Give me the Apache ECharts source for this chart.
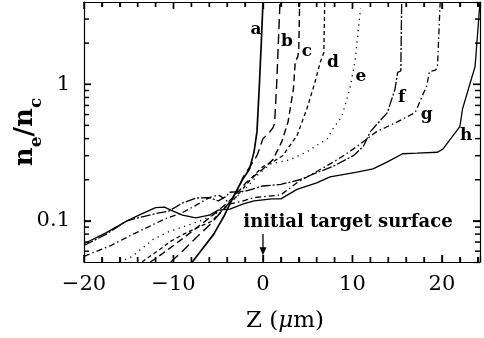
<!DOCTYPE html>
<html>
<head>
<meta charset="utf-8">
<script src="https://cdn.jsdelivr.net/npm/echarts@6/dist/echarts.min.js"></script>
<style>html,body{margin:0;padding:0;background:#fff}#c{width:484px;height:338px}</style>
</head>
<body>
<div id="c"></div>
<script>
// ---- data (z in micrometres, n_e/n_c) ----
const aX = [-7.9, -6.8, -5.5, -4.3, -3.2, -2.3, -1.5, -1.0, -0.67, -0.4, -0.19, 0.0];
const aV = [0.05, 0.062, 0.08, 0.11, 0.155, 0.2, 0.24, 0.32, 0.45, 1.0, 2.0, 4.0];
const bX = [-10.3, -9, -7.5, -6, -5, -3.6, -2.8, -2.2, -1.45, -0.67, 0, 0.78, 1.12, 1.3, 1.53, 1.9];
const bV = [0.05, 0.06, 0.075, 0.093, 0.11, 0.14, 0.17, 0.21, 0.25, 0.30, 0.40, 0.45, 0.48, 0.52, 1.0, 4.0];
const cX = [-12.6, -12, -10, -8, -6, -4, -2.7, -1.9, -1.1, 0, 1.1, 2.1, 2.8, 3.4, 3.6, 3.9, 4.0, 4.1];
const cV = [0.05, 0.053, 0.066, 0.083, 0.105, 0.135, 0.165, 0.19, 0.21, 0.24, 0.28, 0.38, 0.53, 0.92, 1.45, 1.6, 1.8, 4.0];
const dX = [-13.5, -13, -11.5, -10.3, -9, -7.7, -5.8, -4.2, -3, -2, -1, 0, 1.1, 2.2, 3.8, 4.9, 5.8, 6.4, 6.8, 6.9];
const dV = [0.05, 0.053, 0.062, 0.071, 0.079, 0.087, 0.099, 0.125, 0.15, 0.18, 0.215, 0.25, 0.27, 0.3, 0.42, 0.66, 1.03, 1.45, 1.7, 4.0];
const eX = [-16, -14.6, -12.3, -10.4, -9, -7, -5, -3.5, -2, -0.5, 0.8, 3, 4.9, 7.2, 7.8, 8.8, 9.7, 10.3, 10.9];
const eV = [0.05, 0.055, 0.073, 0.084, 0.09, 0.1, 0.115, 0.14, 0.17, 0.22, 0.26, 0.28, 0.32, 0.4, 0.47, 0.58, 0.92, 1.5, 3.6];
const fX = [-20, -17.5, -15.2, -13.5, -12, -10.5, -9, -7.5, -6, -5, -4.2, -3.7, -2, 0, 2, 4.1, 5.6, 7.8, 10.1, 11.2, 12, 13.9, 14.75, 15.05, 15.4, 15.5];
const fV = [0.066, 0.08, 0.1, 0.107, 0.113, 0.118, 0.135, 0.147, 0.148, 0.14, 0.15, 0.162, 0.165, 0.18, 0.185, 0.2, 0.22, 0.25, 0.3, 0.35, 0.45, 0.62, 0.92, 1.22, 1.25, 4.0];
const gX = [-20, -17, -14.5, -11, -9, -7.5, -6, -5, -4.3, -3.7, -2.2, -1, 0, 2, 3.8, 6, 8.3, 10.5, 12.7, 15, 17, 17.8, 18.3, 18.6, 19.3, 19.5, 19.8];
const gV = [0.055, 0.066, 0.08, 0.103, 0.115, 0.13, 0.148, 0.155, 0.145, 0.133, 0.14, 0.148, 0.15, 0.155, 0.19, 0.23, 0.28, 0.35, 0.45, 0.53, 0.62, 0.82, 0.97, 1.24, 1.27, 1.35, 4.0];
const hX = [-20, -17.5, -15.2, -13.5, -12, -11, -10.3, -9, -7.5, -6, -5, -3.7, -2.2, -1, 1, 2, 3.8, 6, 7.5, 10.5, 12.3, 13.9, 15.6, 17.2, 19.5, 20.1, 22, 22.3, 23.7, 24.25];
const hV = [0.068, 0.082, 0.1, 0.113, 0.125, 0.126, 0.12, 0.11, 0.105, 0.11, 0.12, 0.122, 0.133, 0.14, 0.145, 0.145, 0.17, 0.19, 0.21, 0.227, 0.24, 0.27, 0.31, 0.313, 0.318, 0.335, 0.49, 0.66, 1.35, 4.0];

const curveNames = ['a', 'b', 'c', 'd', 'e', 'f', 'g', 'h'];
const labelX = [-0.78, 2.68, 4.92, 7.82, 10.95, 15.5, 18.3, 22.7];
const labelV = [2.53, 2.06, 1.74, 1.45, 1.14, 0.80, 0.60, 0.42];

const xMajor = [-20, -10, 0, 10, 20];
const xMinor = [-18, -16, -14, -12, -8, -6, -4, -2, 2, 4, 6, 8, 12, 14, 16, 18, 22, 24];
const yMajor = [0.1, 1];
const yMinor = [0.06, 0.07, 0.08, 0.09, 0.2, 0.3, 0.4, 0.5, 0.6, 0.7, 0.8, 0.9, 2, 3];

const noteText = 'initial target surface';
const noteAt = [9.5, 0.097];
const arrowFrom = [0, 0.08];
const arrowTo = [0, 0.056];

// ---- chart ----
const FONT = 'DejaVu Serif';
const K = '#000';
const X_MIN = -20, X_MAX = 24.25, Y_MIN = 0.05, Y_MAX = 4;
const zip = (xs, vs) => xs.map((x, i) => [x, vs[i]]);
const styles = [
  { width: 1.7, type: 'solid' },
  { width: 1.4, type: [10, 5] },
  { width: 1.4, type: [7, 4] },
  { width: 1.3, type: [4, 3] },
  { width: 1.3, type: [1.2, 4.5] },
  { width: 1.3, type: [10, 2, 2, 2] },
  { width: 1.3, type: [6, 3, 1.5, 3] },
  { width: 1.3, type: 'solid' }
];
const allX = [aX, bX, cX, dX, eX, fX, gX, hX];
const allV = [aV, bV, cV, dV, eV, fV, gV, hV];

const chart = echarts.init(document.getElementById('c'), null, { renderer: 'canvas' });
const lineSty = { color: K, width: 1.2 };

function xAx(pos) {
  return {
    type: 'value', position: pos, min: X_MIN, max: X_MAX, interval: 10,
    axisLine: { show: true, onZero: false, lineStyle: lineSty },
    axisTick: { show: true, inside: true, length: 7, lineStyle: { color: K, width: 1.3 } },
    minorTick: { show: true, splitNumber: 5, length: 5, lineStyle: { color: K, width: 1.3 } },
    axisLabel: { show: pos === 'bottom', showMaxLabel: false, margin: 12, color: K, fontFamily: FONT, fontSize: 21,
      formatter: v => (v > 22 ? '' : (v < 0 ? '\u2212' + (-v) : String(v))) },
    splitLine: { show: false }, minorSplitLine: { show: false }
  };
}
function yAx(pos) {
  return {
    type: 'log', logBase: 10, position: pos, min: Y_MIN, max: Y_MAX,
    axisLine: { show: true, onZero: false, lineStyle: lineSty },
    axisTick: { show: true, inside: true, length: 7, lineStyle: { color: K, width: 1.3 } },
    axisLabel: { show: pos === 'left', showMinLabel: false, showMaxLabel: false, margin: 14, color: K, fontFamily: FONT, fontSize: 21,
      formatter: v => { const n = Number(Number(v).toPrecision(3)); return (n === 0.1 || n === 1) ? String(n) : ''; } },
    splitLine: { show: false }, minorSplitLine: { show: false }
  };
}

const xAxes = [xAx('bottom'), xAx('top')];
xAxes[0].name = 'Z ({i|\u03bc}m)';
xAxes[0].nameLocation = 'middle';
xAxes[0].nameGap = 48;
xAxes[0].nameMoveOverlap = false;
xAxes[0].nameTextStyle = { color: K, fontFamily: FONT, fontSize: 23, padding: [0, 0, 0, 6],
  rich: { i: { fontFamily: FONT, fontSize: 23, fontStyle: 'italic', color: K } } };

const yAxes = [yAx('left'), yAx('right')];
yAxes[0].name = '{n|n}{s|e}{n|/n}{s|c}';
yAxes[0].nameLocation = 'middle';
yAxes[0].nameRotate = 90;
yAxes[0].nameGap = 44;
yAxes[0].nameMoveOverlap = false;
yAxes[0].nameTextStyle = { color: K, rich: {
  n: { fontFamily: FONT, fontSize: 26, fontWeight: 'bold', color: K, lineHeight: 28, verticalAlign: 'top' },
  s: { fontFamily: FONT, fontSize: 17, fontWeight: 'bold', color: K, lineHeight: 17, verticalAlign: 'top', padding: [16, 0, 0, 0] }
} };

const series = curveNames.map((nm, i) => ({
  name: nm, type: 'line', xAxisIndex: 0, yAxisIndex: 0,
  data: zip(allX[i], allV[i]), showSymbol: false, symbol: 'none',
  lineStyle: { color: K, width: styles[i].width, type: styles[i].type },
  silent: true, animation: false
}));

chart.setOption({
  animation: false,
  backgroundColor: '#fff',
  grid: { left: 84, right: 4, top: 2, bottom: 76, containLabel: false, outerBoundsMode: 'none' },
  xAxis: xAxes,
  yAxis: yAxes,
  series: series
});

const px = p => chart.convertToPixel({ xAxisIndex: 0, yAxisIndex: 0 }, p);
const g = [];
const TS = () => ({ stroke: K, lineWidth: 1.5 });
// inside ticks on all four sides, placed through the axes' own scales
function xTicks(vals, len) {
  vals.forEach(x => {
    const b = px([x, Y_MIN]), t = px([x, Y_MAX]);
    g.push({ type: 'line', shape: { x1: b[0], y1: b[1], x2: b[0], y2: b[1] - len }, style: TS() });
    g.push({ type: 'line', shape: { x1: t[0], y1: t[1], x2: t[0], y2: t[1] + len }, style: TS() });
  });
}
function yTicks(vals, len) {
  vals.forEach(v => {
    const l = px([X_MIN, v]), r = px([X_MAX, v]);
    g.push({ type: 'line', shape: { x1: l[0], y1: l[1], x2: l[0] + len, y2: l[1] }, style: TS() });
    g.push({ type: 'line', shape: { x1: r[0], y1: r[1], x2: r[0] - len, y2: r[1] }, style: TS() });
  });
}
xTicks(xMajor, 7); xTicks(xMinor, 5);
yTicks(yMajor, 7); yTicks(yMinor, 5);

curveNames.forEach((nm, i) => {
  const p = px([labelX[i], labelV[i]]);
  g.push({ type: 'text', x: p[0], y: p[1], style: { text: nm, fill: K, font: 'bold 17px "DejaVu Serif"', align: 'center', verticalAlign: 'middle' } });
});
const np = px(noteAt);
g.push({ type: 'text', x: np[0], y: np[1], style: { text: noteText, fill: K, font: 'bold 18px "DejaVu Serif"', align: 'center', verticalAlign: 'middle' } });
const a0 = px(arrowFrom), a1 = px(arrowTo);
g.push({ type: 'line', shape: { x1: a0[0], y1: a0[1], x2: a1[0], y2: a1[1] - 5 }, style: { stroke: K, lineWidth: 1.3 } });
g.push({ type: 'polygon', shape: { points: [[a1[0] - 3.5, a1[1] - 8], [a1[0] + 3.5, a1[1] - 8], [a1[0], a1[1]]] }, style: { fill: K } });
chart.setOption({ graphic: g });
</script>
</body>
</html>
